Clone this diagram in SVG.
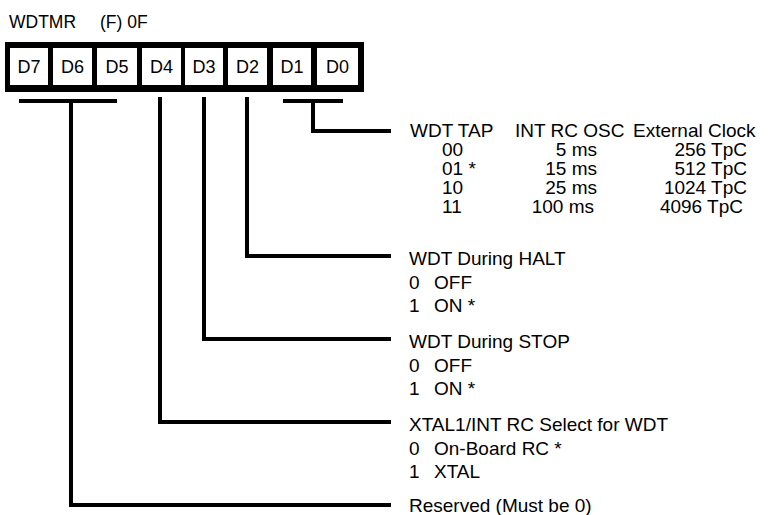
<svg xmlns="http://www.w3.org/2000/svg" width="769" height="515" viewBox="0 0 769 515">
<style>
text{font-family:"Liberation Sans",Arial,sans-serif;fill:#000}
.h{font-size:17.5px}
.c{font-size:18px;text-anchor:middle}
.t{font-size:19px}
.e{text-anchor:end}
.ln{fill:none;stroke:#000;stroke-width:4;stroke-linejoin:miter;stroke-linecap:butt}
.v{fill:none;stroke:#000;stroke-width:3.5}
.cell{fill:#fff}
</style>
<rect width="769" height="515" fill="#fff"/>
<g id="title"><text class="h" x="9" y="28">WDTMR</text><text class="h" x="100" y="28">(F) 0F</text></g>
<g id="register">
<rect x="5" y="42" width="359" height="50" fill="#000"/>
<rect class="cell" x="10" y="48" width="38" height="37"/>
<rect class="cell" x="53" y="48" width="39" height="37"/>
<rect class="cell" x="97" y="48" width="40" height="37"/>
<rect class="cell" x="142" y="48" width="39" height="37"/>
<rect class="cell" x="185" y="48" width="38" height="37"/>
<rect class="cell" x="228" y="48" width="39" height="37"/>
<rect class="cell" x="273" y="48" width="38" height="37"/>
<rect class="cell" x="317" y="48" width="41" height="37"/>
<text class="c" x="29" y="73">D7</text>
<text class="c" x="72.5" y="73">D6</text>
<text class="c" x="117" y="73">D5</text>
<text class="c" x="161.5" y="73">D4</text>
<text class="c" x="204" y="73">D3</text>
<text class="c" x="247.5" y="73">D2</text>
<text class="c" x="292" y="73">D1</text>
<text class="c" x="337.5" y="73">D0</text>
</g>
<g id="connectors">
<path class="ln" d="M19 101H117"/>
<path class="ln" d="M71 101V505H391"/>
<path class="ln" d="M160 97V422H391"/>
<path class="ln" d="M204 97V339H391"/>
<path class="ln" d="M247 97V256H391"/>
<path class="ln" d="M283 101H343"/>
<path class="ln" d="M313 101V131H391"/>
</g>
<g id="wdt-tap">
<text class="t" x="410" y="137">WDT TAP</text>
<text class="t" x="515" y="137">INT RC OSC</text>
<text class="t" x="633" y="137">External Clock</text>
<text class="t" x="442" y="156">00</text>
<text class="t" x="442" y="175">01 *</text>
<text class="t" x="442" y="194">10</text>
<text class="t" x="442" y="213">11</text>
<text class="t e" x="597" y="156">5 ms</text>
<text class="t e" x="597" y="175">15 ms</text>
<text class="t e" x="597" y="194">25 ms</text>
<text class="t e" x="594" y="213">100 ms</text>
<text class="t e" x="747" y="156">256 TpC</text>
<text class="t e" x="747" y="175">512 TpC</text>
<text class="t e" x="747" y="194">1024 TpC</text>
<text class="t e" x="743" y="213">4096 TpC</text>
</g>
<g id="halt">
<text class="t" x="409" y="265">WDT During HALT</text>
<text class="t" x="409" y="289">0</text><text class="t" x="434" y="289">OFF</text>
<text class="t" x="409" y="312">1</text><text class="t" x="434" y="312">ON *</text>
</g>
<g id="stop">
<text class="t" x="409" y="348">WDT During STOP</text>
<text class="t" x="409" y="372">0</text><text class="t" x="434" y="372">OFF</text>
<text class="t" x="409" y="395">1</text><text class="t" x="434" y="395">ON *</text>
</g>
<g id="xtal">
<text class="t" x="409" y="431">XTAL1/INT RC Select for WDT</text>
<text class="t" x="409" y="455">0</text><text class="t" x="434" y="455">On-Board RC *</text>
<text class="t" x="409" y="478">1</text><text class="t" x="434" y="478">XTAL</text>
</g>
<g id="reserved">
<text class="t" x="409" y="512">Reserved (Must be 0)</text>
</g>
</svg>
